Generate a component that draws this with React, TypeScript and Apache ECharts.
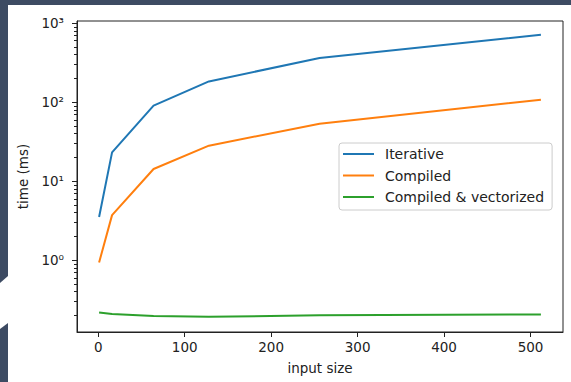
import React, { useEffect, useRef } from "react";
import * as echarts from "echarts";

const inputSizes = [1, 16, 64, 128, 256, 512];
const iterative = [3.5, 23, 90, 182, 360, 710];
const compiled = [0.93, 3.7, 14.2, 28, 53, 107];
const vectorized = [0.217, 0.207, 0.195, 0.191, 0.2, 0.205];
const seriesNames = ["Iterative", "Compiled", "Compiled & vectorized"];
const xTickValues = [0, 100, 200, 300, 400, 500];
const yMajorTicks = [1, 10, 100, 1000];
const yMinorTicks = [
  0.2, 0.3, 0.4, 0.5, 0.6, 0.7, 0.8, 0.9,
  2, 3, 4, 5, 6, 7, 8, 9,
  20, 30, 40, 50, 60, 70, 80, 90,
  200, 300, 400, 500, 600, 700, 800, 900,
];

const X_MIN = -24.55;
const X_MAX = 537.55;
const Y_MIN = 0.1227;
const Y_MAX = 1059;
const FONT = "DejaVu Sans";
const INK = "#222222";
const SUP: Record<string, string> = { "-": "⁻", "0": "⁰", "1": "¹", "2": "²", "3": "³", "4": "⁴" };

export default function App() {
  const ref = useRef<HTMLDivElement>(null);
  useEffect(() => {
    if (!ref.current) return;
    const chart = echarts.init(ref.current, null, { renderer: "svg" });
    const baseGraphic: any[] = [
      { id: "bg", type: "rect", z: -100, shape: { x: 8, y: 5, width: 563, height: 377 }, style: { fill: "#ffffff" } },
      { id: "chev", type: "polygon", z: -100, shape: { points: [[0, 283], [8, 276], [8, 323], [0, 329]] }, style: { fill: "#ffffff" } },
    ];
    chart.setOption({
      animation: false,
      backgroundColor: "#3d4b63",
      graphic: baseGraphic,
      grid: { left: 77, right: 8, top: 21, bottom: 50, show: true, borderColor: INK, borderWidth: 1, backgroundColor: "#ffffff" },
      legend: {
        data: seriesNames,
        orient: "vertical",
        left: 339,
        top: 143,
        icon: "rect",
        itemWidth: 31,
        itemHeight: 2,
        itemGap: 7.5,
        padding: [4, 8, 6, 4],
        backgroundColor: "rgba(255,255,255,0.8)",
        borderColor: "#cccccc",
        borderWidth: 1,
        borderRadius: 3,
        textStyle: { fontFamily: FONT, fontSize: 14, lineHeight: 14, color: INK, padding: [0, 0, 0, 6] },
      },
      xAxis: {
        type: "value",
        min: X_MIN,
        max: X_MAX,
        name: "input size",
        nameLocation: "middle",
        nameGap: 29,
        nameTextStyle: { fontFamily: FONT, fontSize: 13.5, color: INK },
        axisLine: { show: true, onZero: false, lineStyle: { color: INK, width: 1 } },
        axisTick: { show: true, length: 5, customValues: xTickValues, lineStyle: { color: INK } },
        axisLabel: { customValues: xTickValues, margin: 8, fontFamily: FONT, fontSize: 13.5, color: INK },
        splitLine: { show: false },
      },
      yAxis: {
        type: "log",
        logBase: 10,
        min: Y_MIN,
        max: Y_MAX,
        name: "time (ms)",
        nameLocation: "middle",
        nameGap: 47,
        nameTextStyle: { fontFamily: FONT, fontSize: 13.5, color: INK },
        axisLine: { show: true, onZero: false, lineStyle: { color: INK, width: 1 } },
        axisTick: { show: false },
        axisLabel: {
          margin: 13,
          fontFamily: FONT,
          fontSize: 13.5,
          color: INK,
          showMinLabel: false,
          showMaxLabel: false,
          formatter: (v: number) => {
            const l = Math.log10(v);
            const n = Math.round(l);
            if (Math.abs(l - n) > 1e-6) return "";
            return "10" + String(n).split("").map((c) => SUP[c] || c).join("");
          },
        },
        splitLine: { show: false },
      },
      series: [
        { name: seriesNames[0], type: "line", symbol: "none", color: "#1f77b4", lineStyle: { width: 2 }, data: inputSizes.map((x, i) => [x, iterative[i]]) },
        { name: seriesNames[1], type: "line", symbol: "none", color: "#ff7f0e", lineStyle: { width: 2 }, data: inputSizes.map((x, i) => [x, compiled[i]]) },
        { name: seriesNames[2], type: "line", symbol: "none", color: "#2ca02c", lineStyle: { width: 2 }, data: inputSizes.map((x, i) => [x, vectorized[i]]) },
      ],
    });
    const tickEl = (v: number, len: number, idx: string) => {
      const p = chart.convertToPixel({ gridIndex: 0 }, [X_MIN, v]) as number[];
      const y = Math.round(p[1]) + 0.5;
      const x = Math.round(p[0]);
      return {
        id: idx,
        type: "line",
        z: 50,
        shape: { x1: x - len, y1: y, x2: x, y2: y },
        style: { stroke: INK, lineWidth: 1 },
      };
    };
    const ticks = [
      ...yMajorTicks.map((v, i) => tickEl(v, 5, "maj" + i)),
      ...yMinorTicks.map((v, i) => tickEl(v, 3, "min" + i)),
    ];
    chart.setOption({ graphic: [...baseGraphic, ...ticks] });
    return () => chart.dispose();
  }, []);
  return <div ref={ref} style={{ position: "absolute", left: 0, top: 0, width: 571, height: 382 }} />;
}
